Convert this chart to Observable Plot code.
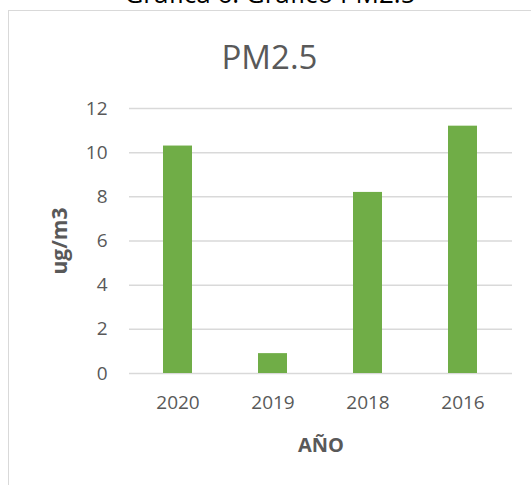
<!DOCTYPE html>
<html>
<head>
<meta charset="utf-8">
<script src="https://cdn.jsdelivr.net/npm/d3@7"></script>
<script src="https://cdn.jsdelivr.net/npm/@observablehq/plot@0.6"></script>
<style>
  html, body { margin: 0; padding: 0; background: #fff; }
  #wrap { position: relative; width: 531px; height: 485px; overflow: hidden; font-family: "Open Sans", sans-serif; }
  #caption { position: absolute; left: 0; width: 540px; top: -24px; text-align: center; font-size: 26px; line-height: 35px; color: #000; white-space: nowrap; }
  #frame { position: absolute; left: 8px; top: 10px; width: 540px; height: 500px; border: 1px solid #d9d9d9; box-sizing: border-box; }
  #title { position: absolute; left: 8px; width: 523px; top: 34px; text-align: center; font-size: 33px; color: #595959; }
  #chart { position: absolute; left: 0; top: 0; }
</style>
</head>
<body>
<div id="wrap">
  <div id="caption">Gráfica 6: Gráfico PM2.5</div>
  <div id="frame"></div>
  <div id="title">PM2.5</div>
  <div id="chart"></div>
</div>
<script>
const years = ["2020", "2019", "2018", "2016"];
const values = [10.3, 0.9, 8.2, 11.2];
const yTicks = [0, 2, 4, 6, 8, 10, 12];
const xLabel = "AÑO";
const yLabel = "ug/m3";

const data = years.map((y, i) => ({year: y, value: values[i]}));

const grey = "#595959";
const plot = Plot.plot({
  width: 531,
  height: 485,
  marginLeft: 129,
  marginRight: 19,
  marginTop: 108,
  marginBottom: 112,
  style: {fontFamily: "Open Sans, sans-serif", fontSize: "19px", color: grey, background: "transparent"},
  x: {domain: years, paddingInner: 0.69, paddingOuter: 0.345, label: null},
  y: {domain: [0, 12], label: null},
  marks: [
    Plot.ruleY(yTicks, {stroke: "#d9d9d9", strokeWidth: 1.5}),
    Plot.barY(data, {x: "year", y: "value", fill: "#70ad47"}),
    Plot.axisY(yTicks, {tickSize: 0, tickPadding: 22, label: null, fill: grey, fontSize: 19}),
    Plot.axisX({tickSize: 0, tickPadding: 22, label: null, fill: grey, fontSize: 19}),
    Plot.text([xLabel], {frameAnchor: "bottom", dy: 72, lineAnchor: "middle", fontWeight: "bold", fontSize: 20, fill: grey}),
    Plot.text([yLabel], {frameAnchor: "left", dx: -69, rotate: -90, textAnchor: "middle", lineAnchor: "middle", fontWeight: "bold", fontSize: 21, fill: grey})
  ]
});
document.getElementById("chart").appendChild(plot);
</script>
</body>
</html>
